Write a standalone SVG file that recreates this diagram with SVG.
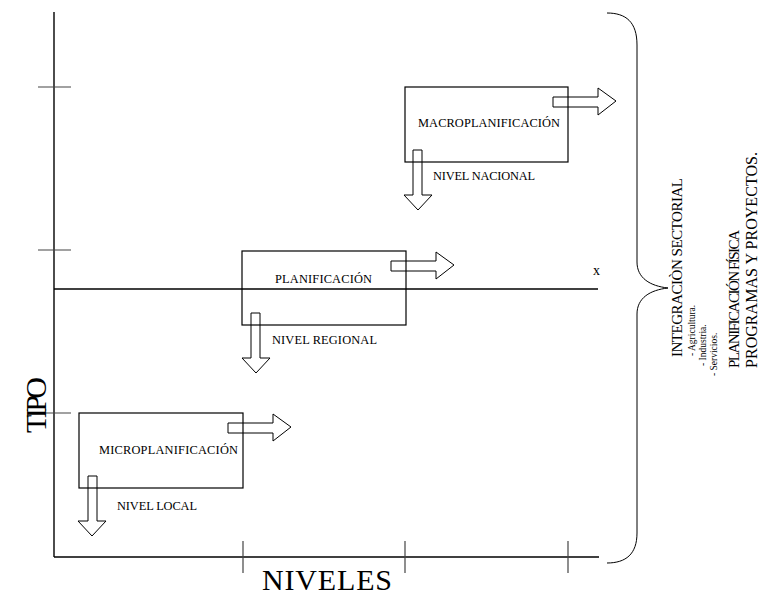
<svg xmlns="http://www.w3.org/2000/svg" width="784" height="597" viewBox="0 0 784 597">
<defs>
<style>
.ax{stroke:#000;stroke-width:1.4;fill:none}
.tk{stroke:#444;stroke-width:1.2;fill:none}
.box{stroke:#000;stroke-width:1.2;fill:none}
.ar{stroke:#000;stroke-width:1;fill:none}
.t{font-family:"Liberation Serif","Times New Roman",serif;fill:#000}
.lb{font-size:12.4px}
.big{font-size:30px}
</style>
</defs>
<rect width="784" height="597" fill="#fff"/>
<g id="axes">
<line class="ax" x1="54" y1="12" x2="54" y2="557"/>
<line class="ax" x1="54" y1="557" x2="599" y2="557"/>
<line class="tk" x1="38" y1="87" x2="71" y2="87"/>
<line class="tk" x1="38" y1="250" x2="71" y2="250"/>
<line class="tk" x1="38" y1="413" x2="71" y2="413"/>
<line class="tk" x1="243" y1="541" x2="243" y2="573"/>
<line class="tk" x1="405" y1="541" x2="405" y2="573"/>
<line class="tk" x1="568" y1="541" x2="568" y2="573"/>
<line class="ax" x1="54" y1="289" x2="598" y2="289"/>
<text class="t" x="593" y="275" font-size="14">x</text>
<text class="t big" transform="translate(46,405) rotate(-90)" text-anchor="middle" textLength="56">TIPO</text>
<text class="t big" x="262" y="590" textLength="130">NIVELES</text>
</g>
<g id="macro">
<rect class="box" x="405" y="87" width="163" height="75"/>
<text class="t lb" x="418" y="127" textLength="142">MACROPLANIFICACIÓN</text>
<text class="t lb" x="433" y="180" textLength="102">NIVEL NACIONAL</text>
</g>
<g id="plan">
<rect class="box" x="242" y="251" width="164" height="74"/>
<text class="t lb" x="275" y="283" textLength="97">PLANIFICACIÓN</text>
<text class="t lb" x="272" y="344" textLength="105">NIVEL REGIONAL</text>
</g>
<g id="micro">
<rect class="box" x="79" y="413" width="164" height="75"/>
<text class="t lb" x="99" y="454" textLength="139">MICROPLANIFICACIÓN</text>
<text class="t lb" x="117" y="510" textLength="80">NIVEL LOCAL</text>
</g>
<g id="connectors">
<path class="ar" d="M553,97 H598 V88 L616,101 L598,115 V107 H553 Z"/>
<path class="ar" d="M413,150 V195 H404 L418,210 L432,195 H422 V150 Z"/>
<path class="ar" d="M391,261 H436 V252 L454,265 L436,279 V271 H391 Z"/>
<path class="ar" d="M251,313 V358 H242 L256,373 L270,358 H260 V313 Z"/>
<path class="ar" d="M228,423 H273 V414 L291,427 L273,441 V433 H228 Z"/>
<path class="ar" d="M88,476 V521 H78 L92,536 L106,521 H97 V476 Z"/>
</g>
<g id="brace">
<path class="ar" d="M607,13 C626,13 637,22 637,45 L637,262 C637,278 650,286 668,288 C650,290 637,298 637,314 L637,533 C637,554 626,563 607,563"/>
</g>
<g id="sectors">
<text class="t" transform="translate(682,357) rotate(-90)" font-size="15" textLength="179">INTEGRACIÒN SECTORIAL</text>
<text class="t" transform="translate(695,356) rotate(-90)" font-size="9.5">- Agricultura.</text>
<text class="t" transform="translate(706,366) rotate(-90)" font-size="9.5">- Industria.</text>
<text class="t" transform="translate(717,376) rotate(-90)" font-size="9.5">- Servicios.</text>
<text class="t" transform="translate(739,368) rotate(-90)" font-size="15" textLength="138">PLANIFICACIÓN FÍSICA</text>
<text class="t" transform="translate(757,368) rotate(-90)" font-size="16" textLength="216">PROGRAMAS Y PROYECTOS.</text>
</g>
</svg>
